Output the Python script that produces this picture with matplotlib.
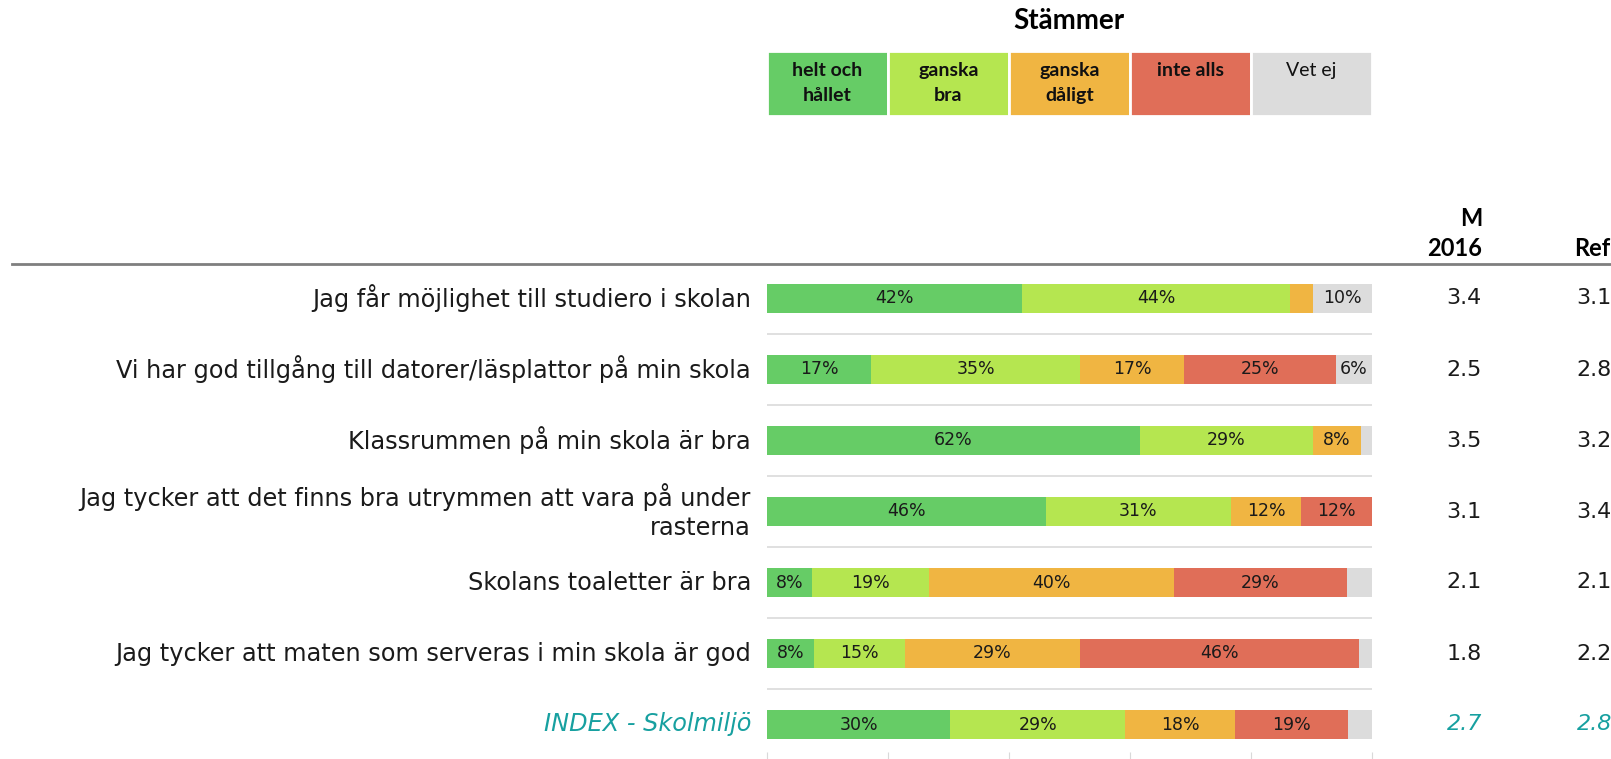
import numpy as np
import matplotlib
matplotlib.use("Agg")
import matplotlib.pyplot as plt

plt.rcParams['font.family'] = ['DejaVu Sans']
BOLD = ['Lato', 'DejaVu Sans']

# ---- data ----
questions = [
    "Jag får möjlighet till studiero i skolan",
    "Vi har god tillgång till datorer/läsplattor på min skola",
    "Klassrummen på min skola är bra",
    "Jag tycker att det finns bra utrymmen att vara på under\nrasterna",
    "Skolans toaletter är bra",
    "Jag tycker att maten som serveras i min skola är god",
    "INDEX - Skolmiljö",
]
helt = [42.2, 17.2, 61.6, 46.1, 7.5, 7.7, 30.3]
ganska_bra = [44.2, 34.6, 28.7, 30.6, 19.2, 15.1, 28.9]
ganska_daligt = [3.9, 17.2, 7.8, 11.6, 40.5, 28.9, 18.2]
inte_alls = [0.0, 25.0, 0.0, 11.7, 28.7, 46.1, 18.6]
vet_ej = [9.7, 6.0, 1.9, 0.0, 4.1, 2.2, 4.0]
m2016 = [3.4, 2.5, 3.5, 3.1, 2.1, 1.8, 2.7]
ref = [3.1, 2.8, 3.2, 3.4, 2.1, 2.2, 2.8]

legend_labels = ["helt och\nhållet", "ganska\nbra", "ganska\ndåligt", "inte alls", "Vet ej"]
colors = ["#66CC66", "#B5E650", "#F0B542", "#E06E58", "#DCDCDC"]
teal = "#17A0A0"

W, H = 1611, 759
fig = plt.figure(figsize=(W / 100, H / 100), dpi=100)


def fx(x):
    return x / W


def fy(y):
    return 1 - y / H


# bar axes: pixel x 767..1372, y 265..752
x0, x1 = 767, 1372
ytop, ybot = 265, 752
ax = fig.add_axes([fx(x0), fy(ybot), fx(x1 - x0), (ybot - ytop) / H])
row0, step = 298.5, 71.0
ax.set_xlim(0, 100)
ax.set_ylim((ybot - row0) / step, (ytop - row0) / step)

series = [helt, ganska_bra, ganska_daligt, inte_alls, vet_ej]
n = len(questions)
ypos = np.arange(n)
left = np.zeros(n)
for vals, c in zip(series, colors):
    vals = np.array(vals)
    ax.barh(ypos, vals, left=left, height=0.42, color=c, edgecolor='none')
    for i, v in enumerate(vals):
        if v >= 5:
            ax.text(left[i] + v / 2, i, f"{v:.0f}%", ha='center', va='center',
                    fontsize=12.5, color='#1a1a1a')
    left += vals

for i in range(n - 1):
    ax.axhline(i + 0.5, color='#DADADA', lw=1.2, zorder=0)

for s in ax.spines.values():
    s.set_visible(False)
ax.set_yticks([])
ax.set_xticks(np.arange(0, 101, 20))
ax.tick_params(axis='x', length=7, color='#D9D9D9', labelbottom=False)

# row labels and values
for i, q in enumerate(questions):
    y = fy(row0 + i * step)
    is_index = i == n - 1
    kw = dict(color=teal, style='italic') if is_index else dict(color='#1a1a1a')
    fig.text(fx(751), y, q, ha='right', va='center', fontsize=17.3,
             linespacing=1.25, **kw)
    fig.text(fx(1482), y, f"{m2016[i]:.1f}", ha='right', va='center',
             fontsize=16, **kw)
    fig.text(fx(1612), y, f"{ref[i]:.1f}", ha='right', va='center',
             fontsize=16, **kw)

# headers
fig.text(fx(1482), fy(218), "M", ha='right', va='center', fontsize=17,
         fontweight='bold', family=BOLD)
fig.text(fx(1482), fy(249), "2016", ha='right', va='center', fontsize=17,
         fontweight='bold', family=BOLD)
fig.text(fx(1574), fy(249), "Ref", ha='left', va='center', fontsize=17,
         fontweight='bold', family=BOLD)
fig.add_artist(plt.Line2D([fx(12), 1], [fy(264), fy(264)], color='#7F7F7F',
                          lw=2, transform=fig.transFigure))

# legend
fig.text(fx(1069), fy(21), "Stämmer", ha='center', va='center', fontsize=20,
         fontweight='bold', family=BOLD)
lax = fig.add_axes([fx(x0), fy(116), fx(x1 - x0), (116 - 51) / H])
lax.set_xlim(0, 100)
lax.set_ylim(0, 1)
lax.axis('off')
for k, (lab, c) in enumerate(zip(legend_labels, colors)):
    lax.barh(0.5, 20, left=k * 20, height=1, color=c, edgecolor='white', lw=2)
    fig.text(fx(x0 + (k + 0.5) * (x1 - x0) / 5), fy(62), lab, ha='center',
             va='top', fontsize=14, linespacing=1.55,
             fontweight='normal' if k == 4 else 'bold', color='#111111',
             family=BOLD)

fig.savefig("out.png", dpi=100)
